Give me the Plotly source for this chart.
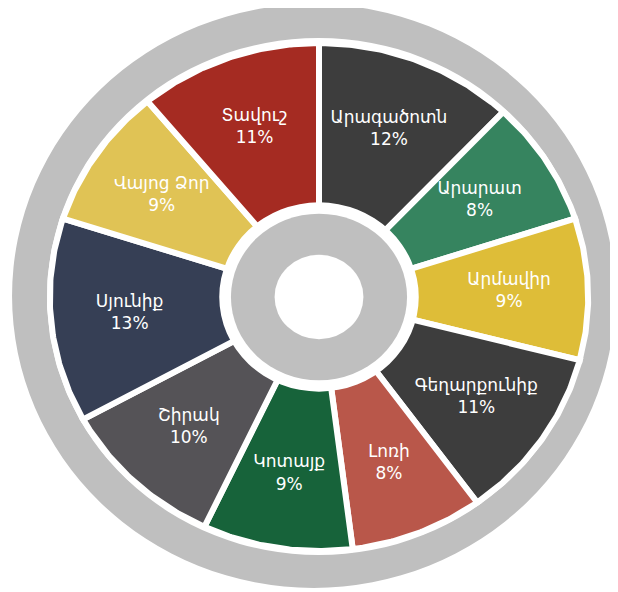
import numpy as np
import plotly.graph_objects as go

# ---- data ----
regions = ["Արագածոտն", "Արարատ", "Արմավիր", "Գեղարքունիք", "Լոռի",
           "Կոտայք", "Շիրակ", "Սյունիք", "Վայոց Ձոր", "Տավուշ"]
shares = [12, 8, 9, 11, 8, 9, 10, 13, 9, 11]
colors = ["#3D3D3D", "#36845F", "#DEBD38", "#3D3D3D", "#B9574A",
          "#17633A", "#555357", "#363F55", "#E0C355", "#A52B22"]

# ---- geometry / style ----
W, H = 618, 592
CX, CY = 311, 289          # pixel centre of the wheel (page has 8px body margin)
RX, RY = 266, 251          # pixel radii of the slices (unit radius = 1)
R_SLICE = 1.012
R_LABEL = 0.715
GRAY = "#BFBFBF"

total = float(sum(shares))
fig = go.Figure()
cum = 0.0
lab_x, lab_y, lab_t = [], [], []
for name, v, c in zip(regions, shares, colors):
    a0 = cum / total * 2 * np.pi
    a1 = (cum + v) / total * 2 * np.pi
    t = np.linspace(a0, a1, 80)
    xs = np.concatenate([[0], R_SLICE * np.sin(t), [0]])
    ys = np.concatenate([[0], R_SLICE * np.cos(t), [0]])
    fig.add_trace(go.Scatter(
        x=xs, y=ys, mode="lines", fill="toself", fillcolor=c,
        line=dict(color="white", width=6), name=name,
        hoverinfo="text", text=f"{name}: {v}%", showlegend=False))
    am = (a0 + a1) / 2
    lab_x.append(R_LABEL * np.sin(am))
    lab_y.append(R_LABEL * np.cos(am))
    lab_t.append(f"{name}<br>{round(v / total * 100)}%")
    cum += v

fig.add_trace(go.Scatter(
    x=lab_x, y=lab_y, mode="text", text=lab_t, hoverinfo="skip",
    textfont=dict(family="DejaVu Sans", size=17, color="white"),
    showlegend=False))

shapes = [
    dict(type="circle", xref="x", yref="y", layer="below",
         x0=-1.154, x1=1.113, y0=-1.159, y1=1.167,
         fillcolor=GRAY, line=dict(width=0)),
    dict(type="circle", xref="x", yref="y", layer="below",
         x0=-1.022, x1=1.019, y0=-1.028, y1=1.032,
         fillcolor="white", line=dict(width=0)),
    dict(type="circle", xref="x", yref="y", layer="above",
         x0=-0.375, x1=0.375, y0=-0.377, y1=0.377,
         fillcolor="white", line=dict(width=0)),
    dict(type="circle", xref="x", yref="y", layer="above",
         x0=-0.331, x1=0.331, y0=-0.332, y1=0.332,
         fillcolor=GRAY, line=dict(width=0)),
    dict(type="circle", xref="x", yref="y", layer="above",
         x0=-0.167, x1=0.167, y0=-0.168, y1=0.168,
         fillcolor="white", line=dict(width=0)),
]

fig.update_layout(
    width=W, height=H, margin=dict(l=0, r=0, t=0, b=0),
    paper_bgcolor="white", plot_bgcolor="white",
    shapes=shapes,
    xaxis=dict(range=[-CX / RX, (W - CX) / RX], visible=False, fixedrange=True),
    yaxis=dict(range=[-(H - CY) / RY, CY / RY], visible=False, fixedrange=True),
)
fig.write_html("out.html")
